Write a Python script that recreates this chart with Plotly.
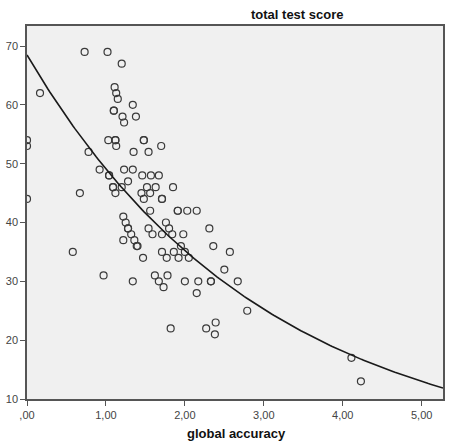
import numpy as np
import plotly.graph_objects as go

# scatter data: global accuracy (x) vs total test score (y)
accuracy = [
    0.73, 1.02, 1.20, 0.165, 1.11, 1.13, 1.15, 1.34, 1.10, 1.10, 1.21, 1.38, 1.23,
    0.0, 0.0, 1.03, 1.12, 1.12, 1.13, 0.78, 1.35, 0.92, 1.23, 1.34, 1.04, 1.04,
    1.28, 1.09, 1.09, 1.20, 0.67, 1.12, 0.0,
    1.48, 1.48, 1.70, 1.54, 1.46, 1.57, 1.67, 1.52, 1.63, 1.85, 1.45, 1.56,
    1.48, 1.71, 1.71, 1.56, 1.91, 1.91, 2.03, 2.15,
    1.22, 1.25, 1.28, 1.28, 1.32, 1.22, 1.36, 1.39, 0.58, 0.97, 1.34,
    2.31, 1.76, 1.54, 1.80, 1.59, 1.71, 1.84, 1.98, 1.40, 1.95, 2.36,
    1.71, 1.86, 2.00, 2.57, 1.47, 1.77, 1.92, 2.05, 2.50, 1.62, 1.78,
    1.67, 2.00, 2.17, 2.33, 2.33, 2.67, 1.73, 2.15, 2.79, 2.39, 1.82,
    2.27, 2.38, 4.11, 4.23,
]
test_score = [
    69, 69, 67, 62, 63, 62, 61, 60, 59, 59, 58, 58, 57,
    54, 53, 54, 54, 54, 53, 52, 52, 49, 49, 49, 48, 48,
    47, 46, 46, 46, 45, 45, 44,
    54, 54, 53, 52, 48, 48, 48, 46, 46, 46, 45, 45,
    44, 44, 44, 42, 42, 42, 42, 42,
    41, 40, 39, 39, 38, 37, 37, 36, 35, 31, 30,
    39, 40, 39, 39, 38, 38, 38, 38, 36, 36, 36,
    35, 35, 35, 35, 34, 34, 34, 34, 32, 31, 31,
    30, 30, 30, 30, 30, 30, 29, 28, 25, 23, 22,
    22, 21, 17, 13,
]

x_tick_vals = [0, 1, 2, 3, 4, 5]
x_tick_text = [",00", "1,00", "2,00", "3,00", "4,00", "5,00"]
y_tick_vals = [10, 20, 30, 40, 50, 60, 70]

x_range = [0, 5.27]
y_range = [10, 73.4]

# exponential fit line (least squares on ln y), as SPSS curve estimation
xa = np.array(accuracy)
ya = np.array(test_score, dtype=float)
b, ln_a = np.polyfit(xa, np.log(ya), 1)
x_fit = np.linspace(x_range[0], x_range[1], 200)
y_fit = np.exp(ln_a) * np.exp(b * x_fit)

font_family = "Arial, Liberation Sans, sans-serif"

W, H = 451, 442
L, R, T, B = 27, 8, 26, 43
plot_h = H - T - B

fig = go.Figure()
fig.add_trace(go.Scatter(
    x=accuracy, y=test_score, mode="markers",
    marker=dict(symbol="circle-open", size=7, color="#3a3a3a",
                line=dict(width=1.2, color="#3a3a3a")),
    showlegend=False, hoverinfo="x+y",
))
fig.add_trace(go.Scatter(
    x=x_fit, y=y_fit, mode="lines",
    line=dict(color="#1a1a1a", width=1.6),
    showlegend=False, hoverinfo="skip",
))

fig.update_layout(
    width=W, height=H,
    margin=dict(l=L, r=R, t=T, b=B, autoexpand=False),
    paper_bgcolor="white",
    plot_bgcolor="#f0f0f0",
    font=dict(family=font_family, size=11, color="#222"),
    annotations=[
        dict(text="<b>total test score</b>", xref="paper", yref="paper",
             x=(297 - L) / (W - L - R), y=1 + 11 / plot_h,
             xanchor="center", yanchor="middle", showarrow=False,
             font=dict(family=font_family, size=13, color="#111")),
        dict(text="<b>global accuracy</b>", xref="paper", yref="paper",
             x=(236 - L) / (W - L - R), y=-34 / plot_h,
             xanchor="center", yanchor="middle", showarrow=False,
             font=dict(family=font_family, size=13, color="#111")),
    ],
)
fig.update_xaxes(
    range=x_range, tickvals=x_tick_vals, ticktext=x_tick_text,
    showgrid=False, zeroline=False, automargin=False,
    showline=True, linecolor="#555", linewidth=1.5, mirror=True,
    ticks="outside", ticklen=5, tickcolor="#555",
    tickfont=dict(size=11, color="#444"),
)
fig.update_yaxes(
    range=y_range, tickvals=y_tick_vals,
    showgrid=False, zeroline=False, automargin=False,
    showline=True, linecolor="#555", linewidth=1.5, mirror=True,
    ticks="outside", ticklen=5, tickcolor="#555",
    tickfont=dict(size=11, color="#444"),
)

fig.write_html("out.html", config={"displayModeBar": False})

# remove the browser's default page margin so the figure fills the window
with open("out.html", encoding="utf-8") as f:
    html = f.read()
html = html.replace("<body>", '<body style="margin:0;overflow:hidden">', 1)
with open("out.html", "w", encoding="utf-8") as f:
    f.write(html)
